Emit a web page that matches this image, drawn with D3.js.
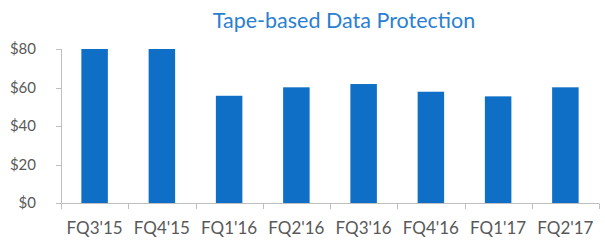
<!DOCTYPE html>
<html>
<head>
<meta charset="utf-8">
<script src="https://cdn.jsdelivr.net/npm/d3@7"></script>
<style>
  body { margin: 0; background: #fff; }
  svg { display: block; }
</style>
</head>
<body>
<svg id="chart"></svg>
<script>
const WIDTH = 605;
const HEIGHT = 246;

// data
const quarters = ["FQ3'15", "FQ4'15", "FQ1'16", "FQ2'16", "FQ3'16", "FQ4'16", "FQ1'17", "FQ2'17"];
const revenue = [80, 80, 55.7, 60.1, 61.8, 57.8, 55.4, 60.1];
const yTicks = [0, 20, 40, 60, 80];
const title = "Tape-based Data Protection";

const svg = d3.select("#chart")
    .attr("width", WIDTH)
    .attr("height", HEIGHT);

const x = d3.scaleBand()
    .domain(quarters)
    .range([61, 599])
    .paddingInner(0.606)
    .paddingOuter(0.303);

const y = d3.scaleLinear()
    .domain([0, 80])
    .range([203, 49]);

// title
svg.append("text")
    .attr("x", 344)
    .attr("y", 28)
    .attr("text-anchor", "middle")
    .style("font-family", "Lato, 'Open Sans', sans-serif")
    .style("font-size", "21.5px")
    .style("fill", "#2a7fd2")
    .text(title);

// bars
svg.selectAll("rect.bar")
    .data(revenue)
    .enter()
    .append("rect")
    .attr("class", "bar")
    .attr("x", (d, i) => x(quarters[i]))
    .attr("width", x.bandwidth())
    .attr("y", d => y(d))
    .attr("height", d => y(0) - y(d))
    .style("fill", "#0f6fc6");

// y axis
const axisColor = "#bfbfbf";
svg.append("line")
    .attr("x1", 61.5).attr("x2", 61.5)
    .attr("y1", y(80)).attr("y2", y(0))
    .style("stroke", axisColor);

svg.selectAll("line.ytick")
    .data(yTicks)
    .enter()
    .append("line")
    .attr("x1", 56).attr("x2", 61.5)
    .attr("y1", d => Math.round(y(d)) + 0.5)
    .attr("y2", d => Math.round(y(d)) + 0.5)
    .style("stroke", axisColor);

svg.selectAll("text.ylab")
    .data(yTicks)
    .enter()
    .append("text")
    .attr("x", 36)
    .attr("y", d => y(d))
    .attr("dy", "0.35em")
    .attr("text-anchor", "end")
    .style("font-family", "Lato, 'Open Sans', sans-serif")
    .style("font-size", "15px")
    .style("fill", "#595959")
    .text(d => "$" + d);

// x axis
svg.append("line")
    .attr("x1", 61).attr("x2", 599)
    .attr("y1", Math.round(y(0)) + 0.5).attr("y2", Math.round(y(0)) + 0.5)
    .style("stroke", axisColor);

// ticks between categories
const edges = quarters.map(q => x(q) - (x.step() - x.bandwidth()) / 2);
edges.push(edges[edges.length - 1] + x.step());
svg.selectAll("line.xtick")
    .data(edges)
    .enter()
    .append("line")
    .attr("x1", d => Math.round(d) + 0.5)
    .attr("x2", d => Math.round(d) + 0.5)
    .attr("y1", Math.round(y(0)) + 0.5)
    .attr("y2", Math.round(y(0)) + 6)
    .style("stroke", axisColor);

svg.selectAll("text.xlab")
    .data(quarters)
    .enter()
    .append("text")
    .attr("x", d => x(d) + x.bandwidth() / 2)
    .attr("y", 234)
    .attr("text-anchor", "middle")
    .style("font-family", "Lato, 'Open Sans', sans-serif")
    .style("font-size", "17px")
    .style("fill", "#595959")
    .text(d => d);
</script>
</body>
</html>
